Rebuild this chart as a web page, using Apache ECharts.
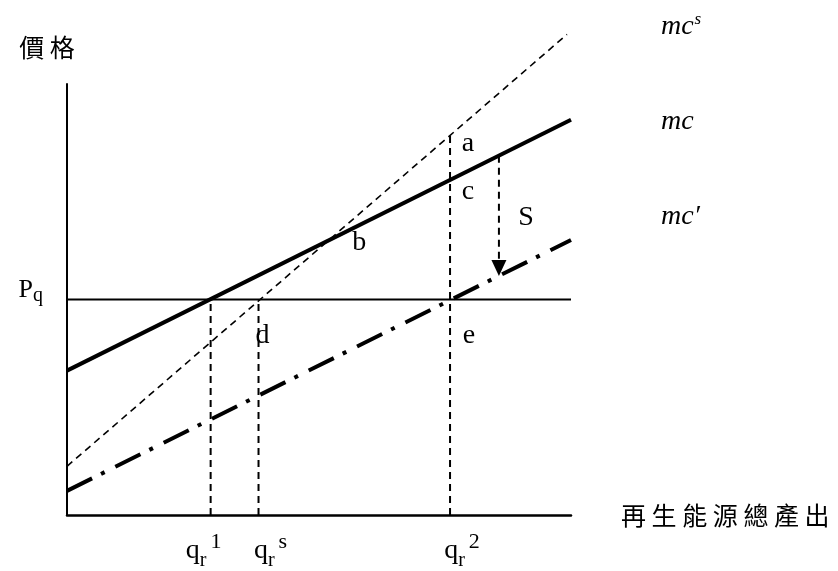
<!DOCTYPE html>
<html>
<head>
<meta charset="utf-8">
<script src="https://cdn.jsdelivr.net/npm/echarts@6/dist/echarts.min.js"></script>
<style>
  html, body { margin: 0; padding: 0; background: #ffffff; }
  #chart { width: 838px; height: 571px; }
</style>
</head>
<body>
<div id="chart"></div>
<script>
// Axis extents (schematic units)
const xMax = 10;
const yMax = 10;

// Price level Pq
const priceLevel = 5;

// Quantities on the horizontal axis and their superscripts
const qTicks = [2.85, 3.8, 7.6];
const qSup = ['1', 's', '2'];

// Marginal cost curves, as [x, y] end points
const mcPrivate = [[0, 3.35], [10, 9.17]];   // mc
const mcSocial = [[0, 1.13], [9.92, 11.15]];  // mc^s
const mcSubsidy = [[0, 0.56], [10, 6.38]];    // mc'

// Quantity where the subsidy arrow S is drawn
const subsidyX = 8.57;

// Text
const yName = '價 格';
const xName = '再 生 能 源 總 產 出';

// ---- helpers ----
function lineAt(seg, x) {
  const [[x0, y0], [x1, y1]] = seg;
  return y0 + (y1 - y0) * (x - x0) / (x1 - x0);
}
function intersect(s1, s2) {
  const k1 = (s1[1][1] - s1[0][1]) / (s1[1][0] - s1[0][0]);
  const k2 = (s2[1][1] - s2[0][1]) / (s2[1][0] - s2[0][0]);
  const b1 = s1[0][1] - k1 * s1[0][0];
  const b2 = s2[0][1] - k2 * s2[0][0];
  const x = (b2 - b1) / (k1 - k2);
  return [x, k1 * x + b1];
}

const [q1, qs, q2] = qTicks;
const pointA = [q2, lineAt(mcSocial, q2)];
const pointC = [q2, lineAt(mcPrivate, q2)];
const pointB = intersect(mcPrivate, mcSocial);
const pointD = [qs, priceLevel];
const pointE = [q2, priceLevel];
const arrowTop = [subsidyX, lineAt(mcPrivate, subsidyX)];
const arrowTip = [subsidyX, lineAt(mcSubsidy, subsidyX)];
const pointS = [subsidyX, (arrowTop[1] + arrowTip[1]) / 2];

// label placement (pixels) relative to each annotated point
const labelOffsets = {
  a: [18, 8], b: [31, 2], c: [18, 12], d: [4, 36], e: [19, 36], S: [27, 2]
};

const serif = 'Liberation Serif';
const cjk = 'Noto Sans CJK TC';
const ink = '#000000';

function guide(data, width) {
  return {
    type: 'line', data: data, symbol: 'none', silent: true, clip: false,
    lineStyle: { color: ink, width: width || 2, type: [7, 5] }
  };
}

const annotations = [
  ['a', pointA], ['b', pointB], ['c', pointC], ['d', pointD], ['e', pointE], ['S', pointS]
].map(([name, p]) => ({
  name: name,
  value: p,
  label: { offset: labelOffsets[name] }
}));

const chart = echarts.init(document.getElementById('chart'), null, { renderer: 'canvas' });

chart.setOption({
  animation: false,
  backgroundColor: '#ffffff',
  grid: { left: 67, right: 267, top: 84, bottom: 54, containLabel: false },
  xAxis: {
    type: 'value', min: 0, max: xMax,
    name: xName, nameLocation: 'end', nameGap: 50,
    nameTextStyle: { fontFamily: cjk, fontSize: 25, color: ink, verticalAlign: 'middle', padding: [0, 0, 4, 0] },
    axisLine: { show: true, lineStyle: { color: ink, width: 2.5 } },
    axisTick: { show: false },
    splitLine: { show: false },
    axisLabel: {
      customValues: qTicks,
      margin: 16,
      formatter: function (v) {
        let i = 0, best = Infinity;
        qTicks.forEach((t, k) => { if (Math.abs(t - v) < best) { best = Math.abs(t - v); i = k; } });
        const q = i === 0 ? 'qL' : 'qR';
        return '{' + q + '|q}{r|r}{sup|' + qSup[i] + '}' + (i === 0 ? '{padR|\u200b}' : '');
      },
      rich: {
        qL: { fontFamily: serif, fontSize: 28, color: ink, lineHeight: 40, verticalAlign: 'middle' },
        qR: { fontFamily: serif, fontSize: 28, color: ink, lineHeight: 40, verticalAlign: 'middle', padding: [0, 0, 0, 24] },
        r: { fontFamily: serif, fontSize: 20, color: ink, lineHeight: 20, verticalAlign: 'bottom' },
        sup: { fontFamily: serif, fontSize: 22, color: ink, lineHeight: 22, verticalAlign: 'top', padding: [0, 0, 0, 4] },
        padR: { fontSize: 10, width: 14 }
      }
    }
  },
  yAxis: {
    type: 'value', min: 0, max: yMax,
    name: yName, nameLocation: 'end', nameGap: 37,
    nameTextStyle: { fontFamily: cjk, fontSize: 25, color: ink, verticalAlign: 'middle', align: 'center', padding: [0, 40, 0, 0] },
    axisLine: { show: true, lineStyle: { color: ink, width: 2 } },
    axisTick: { show: false },
    splitLine: { show: false },
    axisLabel: {
      customValues: [priceLevel],
      margin: 24,
      padding: [0, 0, 18, 0],
      formatter: function () { return '{p|P}{s|q}'; },
      rich: {
        p: { fontFamily: serif, fontSize: 26, color: ink, lineHeight: 30, verticalAlign: 'middle' },
        s: { fontFamily: serif, fontSize: 20, color: ink, lineHeight: 20, verticalAlign: 'bottom' }
      }
    }
  },
  series: [
    // mc^s
    {
      type: 'line', data: mcSocial, symbol: 'none', silent: true, clip: false,
      lineStyle: { color: ink, width: 1.6, type: [7, 5] },
      endLabel: {
        show: true, distance: 0, offset: [94, -8], align: 'left', verticalAlign: 'middle',
        formatter: '{m|mc}{s|s}',
        rich: {
          m: { fontFamily: serif, fontStyle: 'italic', fontSize: 28, color: ink, lineHeight: 30, verticalAlign: 'middle' },
          s: { fontFamily: serif, fontStyle: 'italic', fontSize: 17, color: ink, lineHeight: 18, verticalAlign: 'top', padding: [0, 0, 0, 1] }
        }
      }
    },
    // mc
    {
      type: 'line', data: mcPrivate, symbol: 'none', silent: true, clip: false,
      lineStyle: { color: ink, width: 4 },
      endLabel: {
        show: true, distance: 0, offset: [90, 2], align: 'left', verticalAlign: 'middle',
        formatter: 'mc',
        fontFamily: serif, fontStyle: 'italic', fontSize: 28, color: ink
      }
    },
    // mc'
    {
      type: 'line', data: mcSubsidy, symbol: 'none', silent: true, clip: false,
      lineStyle: { color: ink, width: 4, type: [28, 10, 4, 12] },
      endLabel: {
        show: true, distance: 0, offset: [90, -23], align: 'left', verticalAlign: 'middle',
        formatter: 'mc\u2032',
        fontFamily: serif, fontStyle: 'italic', fontSize: 28, color: ink
      }
    },
    // Pq price line
    {
      type: 'line', data: [[0, priceLevel], [xMax, priceLevel]], symbol: 'none', silent: true,
      lineStyle: { color: ink, width: 2 }
    },
    // vertical guides at the three quantities
    guide([[q1, 0], [q1, priceLevel]]),
    guide([[qs, 0], [qs, priceLevel]]),
    guide([[q2, 0], pointA]),
    // subsidy arrow shaft
    guide([arrowTop, [subsidyX, arrowTip[1] + 0.3]]),
    // arrow head
    {
      type: 'scatter', data: [arrowTip], silent: true,
      symbol: 'path://M0,0 L10,0 L5,10 Z', symbolSize: [15, 16], symbolOffset: [0, -8],
      itemStyle: { color: ink, opacity: 1 }
    },
    // point letters
    {
      type: 'scatter', data: annotations, silent: true, symbol: 'circle', symbolSize: 0,
      itemStyle: { color: ink, opacity: 1 },
      label: {
        show: true, position: 'inside', align: 'center', verticalAlign: 'middle',
        formatter: '{b}', fontFamily: serif, fontSize: 28, color: ink,
        textBorderWidth: 0, opacity: 1
      }
    }
  ]
});
</script>
</body>
</html>
